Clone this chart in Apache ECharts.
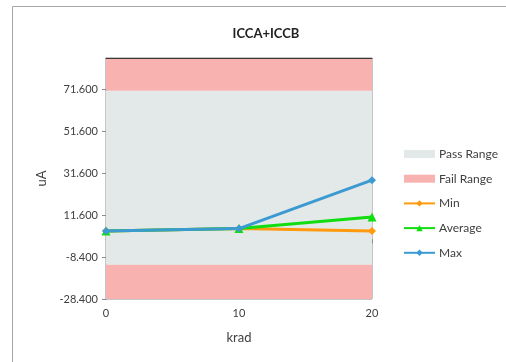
<!DOCTYPE html>
<html>
<head>
<meta charset="utf-8">
<style>
  html, body { margin: 0; padding: 0; background: #fff; }
  #chart { width: 506px; height: 362px; }
</style>
<script src="https://cdn.jsdelivr.net/npm/echarts@6/dist/echarts.min.js"></script>
</head>
<body>
<div id="chart"></div>
<script>
// Dose steps (krad) and measured supply current (uA)
const doses = [0, 10, 20];
const minValues = [4.1, 5.2, 4.1];
const avgValues = [4.1, 5.2, 10.7];
const maxValues = [4.1, 5.2, 28.3];

// Limits: pass band and the two fail bands around it
const passLow = -12;
const passHigh = 71;
const axisMin = -28.4;
const axisMax = 86.6;

// Value labels shown on the current axis
const yTickLabels = [-28.4, -8.4, 11.6, 31.6, 51.6, 71.6];
const xTickLabels = [0, 10, 20];

const font = 'Lato, "Liberation Sans", sans-serif';
const textColor = '#404040';

const pairs = vals => doses.map((d, i) => [d, vals[i]]);

const chart = echarts.init(document.getElementById('chart'));
chart.setOption({
  animation: false,
  backgroundColor: '#ffffff',
  textStyle: { fontFamily: font },
  graphic: [{
    type: 'rect',
    shape: { x: 12.5, y: 6.5, width: 600, height: 500 },
    style: { fill: 'none', stroke: '#a6a6a6', lineWidth: 1 },
    silent: true
  }],
  title: {
    text: 'ICCA+ICCB',
    left: 261,
    top: 22,
    textAlign: 'center',
    textStyle: { fontFamily: font, fontSize: 13, fontWeight: 'bold', color: '#222' }
  },
  legend: {
    orient: 'vertical',
    left: 403,
    top: 148,
    padding: 0,
    itemWidth: 31,
    itemHeight: 8,
    itemGap: 12.7,
    textStyle: { fontFamily: font, fontSize: 12, color: textColor, padding: [0, 0, 0, -1] },
    data: [
      { name: 'Pass Range', icon: 'rect' },
      { name: 'Fail Range', icon: 'rect' },
      { name: 'Min' },
      { name: 'Average' },
      { name: 'Max' }
    ]
  },
  grid: {
    left: 106, right: 134, top: 58, bottom: 63,
    show: true, borderColor: '#8c8c8c', borderWidth: 1
  },
  xAxis: [{
    type: 'value',
    min: 0, max: 20, interval: 10,
    name: 'krad',
    nameLocation: 'middle',
    nameGap: 32,
    nameTextStyle: { fontFamily: font, fontSize: 13, color: textColor },
    axisLine: { lineStyle: { color: '#8c8c8c' } },
    axisTick: { show: true, length: 4, lineStyle: { color: '#8c8c8c' } },
    axisLabel: {
      fontFamily: font, fontSize: 11, color: textColor, margin: 9,
      customValues: xTickLabels
    },
    splitLine: { show: false }
  }, {
    type: 'value',
    position: 'top',
    min: 0, max: 20,
    z: 10,
    axisLine: { show: true, lineStyle: { color: '#3a3a3a' } },
    axisTick: { show: false },
    axisLabel: { show: false },
    splitLine: { show: false }
  }],
  yAxis: {
    type: 'value',
    min: axisMin, max: axisMax,
    name: 'uA',
    nameLocation: 'middle',
    nameGap: 58,
    nameTextStyle: { fontFamily: font, fontSize: 13, color: textColor },
    axisLine: { show: true, lineStyle: { color: '#8c8c8c' } },
    axisTick: { show: true, length: 4, inside: false, lineStyle: { color: '#8c8c8c' }, customValues: yTickLabels },
    axisLabel: {
      fontFamily: font, fontSize: 11, color: textColor, margin: 8,
      customValues: yTickLabels,
      formatter: v => v.toFixed(3)
    },
    splitLine: { show: false }
  },
  series: [
    {
      name: 'Pass Range',
      type: 'line',
      data: [],
      itemStyle: { color: '#e3e9e9' },
      markArea: {
        silent: true,
        itemStyle: { color: '#e3e9e9' },
        data: [[{ yAxis: passLow }, { yAxis: passHigh }]]
      }
    },
    {
      name: 'Fail Range',
      type: 'line',
      data: [],
      itemStyle: { color: '#f8b3b0' },
      markArea: {
        silent: true,
        itemStyle: { color: '#f8b3b0' },
        data: [
          [{ yAxis: passHigh }, { yAxis: axisMax }],
          [{ yAxis: axisMin }, { yAxis: passLow }]
        ]
      }
    },
    {
      name: 'Min',
      type: 'line',
      data: pairs(minValues),
      symbol: 'diamond', symbolSize: 8,
      lineStyle: { width: 3, color: '#ff9a0e' },
      itemStyle: { color: '#ff9a0e' },
      z: 3
    },
    {
      name: 'Average',
      type: 'line',
      data: pairs(avgValues),
      symbol: 'triangle', symbolSize: 9,
      lineStyle: { width: 3, color: '#11dd11' },
      itemStyle: { color: '#11dd11' },
      z: 4
    },
    {
      name: 'Max',
      type: 'line',
      data: pairs(maxValues),
      symbol: 'diamond', symbolSize: 8,
      lineStyle: { width: 3, color: '#3c9ad3' },
      itemStyle: { color: '#3c9ad3' },
      z: 5
    }
  ]
});
</script>
</body>
</html>
